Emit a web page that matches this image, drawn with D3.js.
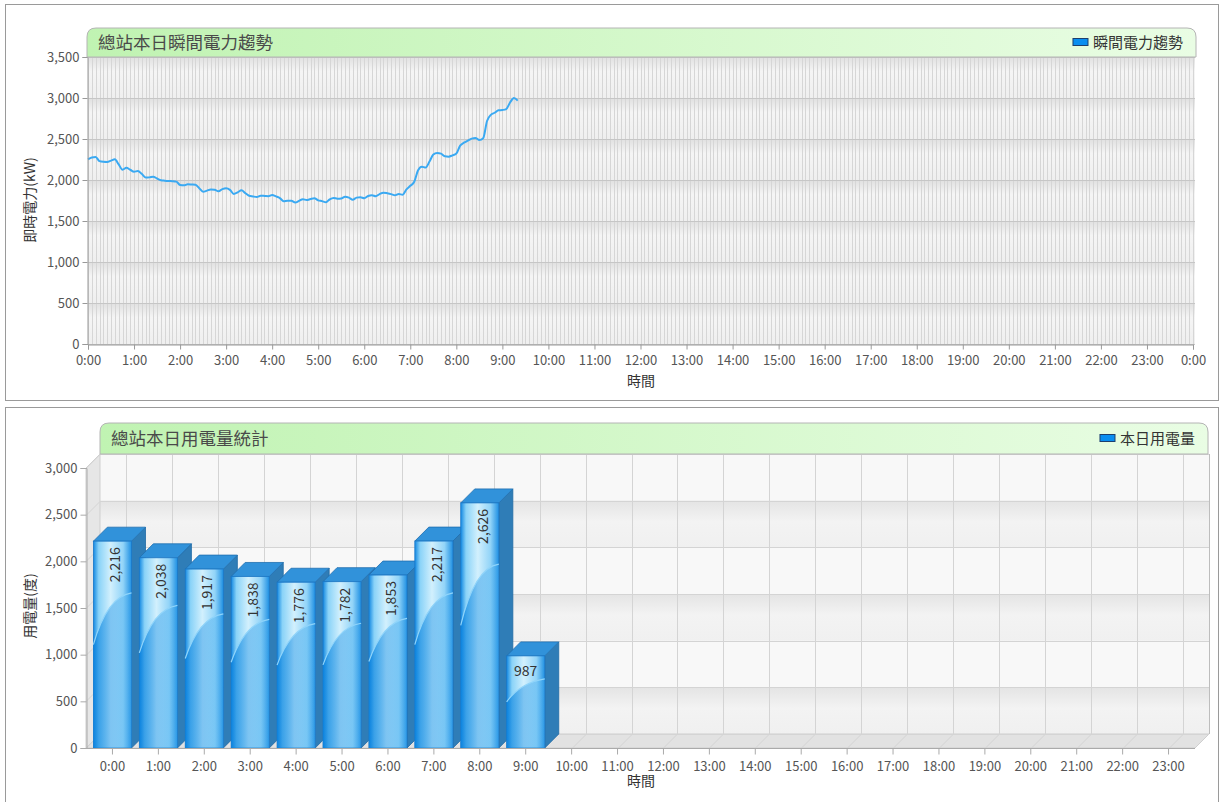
<!DOCTYPE html>
<html>
<head>
<meta charset="utf-8">
<script src="https://cdn.jsdelivr.net/npm/d3@7"></script>
<style>
  body { margin: 0; background: #fff; }
  text { font-family: "Noto Sans CJK TC", "Open Sans", sans-serif; }
</style>
</head>
<body>
<svg id="chart" width="1220" height="802"></svg>
<script>
// instant power, every 5 minutes from 0:00 to 9:20 (kW)
var powerValues = [
  2252, 2275, 2280, 2230, 2222, 2220, 2236, 2252, 2190, 2125,
  2148, 2125, 2100, 2110, 2075, 2030, 2032, 2040, 2018, 1998,
  1992, 1988, 1986, 1980, 1940, 1935, 1947, 1945, 1942, 1900,
  1856, 1870, 1885, 1882, 1862, 1888, 1900, 1880, 1830, 1850,
  1874, 1840, 1808, 1800, 1793, 1808, 1806, 1803, 1817, 1800,
  1780, 1742, 1748, 1748, 1725, 1745, 1766, 1756, 1768, 1777,
  1752, 1742, 1728, 1765, 1782, 1772, 1775, 1795, 1785, 1760,
  1785, 1790, 1778, 1805, 1815, 1802, 1828, 1845, 1838, 1828,
  1813, 1830, 1820, 1885, 1930, 1975, 2115, 2163, 2152, 2225,
  2310, 2330, 2322, 2290, 2285, 2300, 2322, 2420, 2455, 2480,
  2505, 2512, 2488, 2510, 2720, 2795, 2820, 2850, 2854, 2865,
  2945, 3000, 2968
];
var stepMinutes = 5;

// hourly usage (度)
var hours = ["0:00","1:00","2:00","3:00","4:00","5:00","6:00","7:00","8:00","9:00","10:00","11:00",
             "12:00","13:00","14:00","15:00","16:00","17:00","18:00","19:00","20:00","21:00","22:00","23:00"];
var usageValues = [2216, 2038, 1917, 1838, 1776, 1782, 1853, 2217, 2626, 987];

var topTicks = [0, 500, 1000, 1500, 2000, 2500, 3000, 3500];
var bottomTicks = [0, 500, 1000, 1500, 2000, 2500, 3000];

var svg = d3.select('#chart');
var defs = svg.append('defs');
var fmt = d3.format(',');

// panel frames
svg.append('rect').attr('x', 5.5).attr('y', 4.5).attr('width', 1213).attr('height', 396)
  .attr('fill', '#fff').attr('stroke', '#9a9a9a');
svg.append('rect').attr('x', 5.5).attr('y', 407.5).attr('width', 1213).attr('height', 400)
  .attr('fill', '#fff').attr('stroke', '#9a9a9a');

// gradients
var hg = defs.append('linearGradient').attr('id', 'hdr').attr('x1', 0).attr('y1', 0).attr('x2', 1).attr('y2', 0);
hg.append('stop').attr('offset', '0%').attr('stop-color', '#c0f3b2');
hg.append('stop').attr('offset', '100%').attr('stop-color', '#e9fde4');

var bg = defs.append('linearGradient').attr('id', 'band').attr('x1', 0).attr('y1', 0).attr('x2', 0).attr('y2', 1);
bg.append('stop').attr('offset', '0%').attr('stop-color', '#e0e0e0');
bg.append('stop').attr('offset', '35%').attr('stop-color', '#f5f5f5');
bg.append('stop').attr('offset', '100%').attr('stop-color', '#efefef');

var bg2 = defs.append('linearGradient').attr('id', 'band2').attr('x1', 0).attr('y1', 0).attr('x2', 0).attr('y2', 1);
bg2.append('stop').attr('offset', '0%').attr('stop-color', '#e4e4e4');
bg2.append('stop').attr('offset', '45%').attr('stop-color', '#f3f3f3');
bg2.append('stop').attr('offset', '100%').attr('stop-color', '#f0f0f0');

var fg = defs.append('linearGradient').attr('id', 'face').attr('x1', 0).attr('y1', 0).attr('x2', 1).attr('y2', 0);
fg.append('stop').attr('offset', '0%').attr('stop-color', '#1489e2');
fg.append('stop').attr('offset', '14%').attr('stop-color', '#8ad3f8');
fg.append('stop').attr('offset', '45%').attr('stop-color', '#d2f0fd');
fg.append('stop').attr('offset', '78%').attr('stop-color', '#92d4f8');
fg.append('stop').attr('offset', '100%').attr('stop-color', '#1f90e3');

var gl = defs.append('linearGradient').attr('id', 'glare').attr('x1', 0).attr('y1', 0).attr('x2', 1).attr('y2', 0);
gl.append('stop').attr('offset', '0%').attr('stop-color', '#0a82de').attr('stop-opacity', 0.75);
gl.append('stop').attr('offset', '100%').attr('stop-color', '#4fb4f2').attr('stop-opacity', 0.2);

function header(x0, y0, x1, y1, title, legend) {
  var r = 9;
  svg.append('path')
    .attr('d', 'M' + x0 + ',' + y1 + 'V' + (y0 + r) + 'Q' + x0 + ',' + y0 + ' ' + (x0 + r) + ',' + y0 +
               'H' + (x1 - r) + 'Q' + x1 + ',' + y0 + ' ' + x1 + ',' + (y0 + r) + 'V' + y1 + 'Z')
    .attr('fill', 'url(#hdr)').attr('stroke', '#b4b4b4');
  svg.append('text').attr('x', x0 + 11).attr('y', (y0 + y1) / 2 + 6)
    .attr('font-size', 17.5).attr('fill', '#4a4a4a').text(title);
  var lt = svg.append('text').attr('x', x1 - 13).attr('y', (y0 + y1) / 2 + 5)
    .attr('font-size', 15).attr('fill', '#333').attr('text-anchor', 'end').text(legend);
  var w = lt.node().getComputedTextLength();
  svg.append('rect').attr('x', x1 - 13 - w - 20).attr('y', (y0 + y1) / 2 - 4)
    .attr('width', 15).attr('height', 7).attr('fill', '#0a8ef0').attr('stroke', '#1d3f6e');
}

// ---------------- top chart ----------------
var x = d3.scaleLinear().domain([0, 24 * 60]).range([88, 1193]);
var y = d3.scaleLinear().domain([0, 3500]).range([344, 57]);

var topG = svg.append('g');
topG.selectAll('rect.band').data(topTicks.slice(0, -1)).enter().append('rect')
  .attr('x', 88).attr('width', 1107)
  .attr('y', function (d) { return y(d + 500); })
  .attr('height', function (d) { return y(d) - y(d + 500); })
  .attr('fill', 'url(#band)');

topG.selectAll('line.v').data(d3.range(0, 24 * 60 / stepMinutes + 1)).enter().append('line')
  .attr('x1', function (d) { return Math.round(x(d * stepMinutes)) + 0.5; })
  .attr('x2', function (d) { return Math.round(x(d * stepMinutes)) + 0.5; })
  .attr('y1', 57).attr('y2', 344)
  .attr('stroke', '#d6d6d6');

topG.selectAll('line.h').data(topTicks).enter().append('line')
  .attr('x1', 88).attr('x2', 1195)
  .attr('y1', function (d) { return Math.round(y(d)) + 0.5; })
  .attr('y2', function (d) { return Math.round(y(d)) + 0.5; })
  .attr('stroke', '#c6c6c6');

var line = d3.line()
  .x(function (d, i) { return x(i * stepMinutes); })
  .y(function (d) { return y(d); })
  .curve(d3.curveMonotoneX);
topG.append('path').datum(powerValues).attr('d', line)
  .attr('fill', 'none').attr('stroke', '#3aa9f2').attr('stroke-width', 2);

var yAxisTop = topG.append('g').attr('transform', 'translate(87.5,0)')
  .call(d3.axisLeft(y).tickValues(topTicks).tickFormat(fmt).tickSize(5).tickPadding(3));
var xAxisTop = topG.append('g').attr('transform', 'translate(0,344.5)')
  .call(d3.axisBottom(x).tickValues(d3.range(0, 25).map(function (h) { return h * 60; }))
    .tickFormat(function (d) { return (d / 60) % 24 + ':00'; }).tickSize(5).tickPadding(6));
[yAxisTop, xAxisTop].forEach(function (a) {
  a.selectAll('path').attr('stroke', '#999');
  a.selectAll('line').attr('stroke', '#999');
  a.selectAll('text').attr('font-size', 13).attr('fill', '#555')
    .style('font-family', '"Noto Sans CJK TC", sans-serif');
});

topG.append('text').attr('transform', 'translate(35,200) rotate(-90)')
  .attr('text-anchor', 'middle').attr('font-size', 14).attr('fill', '#333').text('即時電力(kW)');
topG.append('text').attr('x', 641).attr('y', 386)
  .attr('text-anchor', 'middle').attr('font-size', 14).attr('fill', '#333').text('時間');

header(87, 28, 1196, 57, '總站本日瞬間電力趨勢', '瞬間電力趨勢');

// ---------------- bottom chart ----------------
var dep = 14;
var xb = d3.scaleBand().domain(hours).range([89.5, 1191.5]).paddingInner(0.17).paddingOuter(0.085);
var yb = d3.scaleLinear().domain([0, 3000]).range([748, 468]);

var bot = svg.append('g');
// back wall
bot.append('rect').attr('x', 86 + dep).attr('y', yb(3000) - dep).attr('width', 1109)
  .attr('height', yb(0) - yb(3000)).attr('fill', '#f8f8f8');
bot.selectAll('rect.band').data([0, 1000, 2000]).enter().append('rect')
  .attr('x', 86 + dep).attr('width', 1109)
  .attr('y', function (d) { return yb(d + 500) - dep; })
  .attr('height', function (d) { return yb(d) - yb(d + 500); })
  .attr('fill', 'url(#band2)');
// left wall
bot.append('path')
  .attr('d', 'M86,' + yb(0) + 'V' + yb(3000) + 'L' + (86 + dep) + ',' + (yb(3000) - dep) +
             'V' + (yb(0) - dep) + 'Z')
  .attr('fill', '#e6e6e6').attr('stroke', '#cfcfcf');
// floor
bot.append('path')
  .attr('d', 'M86,' + yb(0) + 'H1195L' + (1195 + dep) + ',' + (yb(0) - dep) + 'H' + (86 + dep) + 'Z')
  .attr('fill', '#e2e2e2').attr('stroke', '#cfcfcf');
// back wall right edge
bot.append('line').attr('x1', 1195 + dep + 0.5).attr('x2', 1195 + dep + 0.5)
  .attr('y1', yb(3000) - dep).attr('y2', yb(0) - dep).attr('stroke', '#bdbdbd');

// horizontal grid on walls
bot.selectAll('path.hg').data(bottomTicks).enter().append('path')
  .attr('d', function (d) {
    var yy = Math.round(yb(d)) + 0.5;
    return 'M86,' + yy + 'L' + (86 + dep) + ',' + (yy - dep) + 'H' + (1195 + dep);
  })
  .attr('fill', 'none').attr('stroke', '#d4d4d4');
// vertical grid on back wall + floor
bot.selectAll('path.vg').data(hours).enter().append('path')
  .attr('d', function (d) {
    var cx = Math.round(xb(d) + xb.bandwidth() / 2) + 0.5;
    return 'M' + cx + ',' + yb(0) + 'L' + (cx + dep) + ',' + (yb(0) - dep) + 'V' + (yb(3000) - dep);
  })
  .attr('fill', 'none').attr('stroke', '#d4d4d4');

// bars
var bars = bot.selectAll('g.bar').data(usageValues).enter().append('g');
bars.each(function (v, i) {
  var g = d3.select(this);
  var bx = xb(hours[i]), bw = xb.bandwidth(), by = yb(v), b0 = yb(0), h = b0 - by;
  g.append('path')
    .attr('d', 'M' + (bx + bw) + ',' + by + 'L' + (bx + bw + dep) + ',' + (by - dep) +
               'V' + (b0 - dep) + 'L' + (bx + bw) + ',' + b0 + 'Z')
    .attr('fill', '#2f7db7').attr('stroke', '#1f6aa5').attr('stroke-width', 0.8);
  g.append('path')
    .attr('d', 'M' + bx + ',' + by + 'L' + (bx + dep) + ',' + (by - dep) + 'H' + (bx + bw + dep) +
               'L' + (bx + bw) + ',' + by + 'Z')
    .attr('fill', '#3192da').attr('stroke', '#1f6fb0').attr('stroke-width', 0.8);
  g.append('rect').attr('x', bx).attr('y', by).attr('width', bw).attr('height', h)
    .attr('fill', 'url(#face)').attr('stroke', '#1a78c8').attr('stroke-width', 0.8);
  // glare arc
  var yl = b0 - h * 0.5, yr = b0 - h * 0.75;
  g.append('path')
    .attr('d', 'M' + bx + ',' + yl + 'Q' + (bx + bw * 0.35) + ',' + (yr + 4) + ' ' + (bx + bw) + ',' + yr +
               'V' + b0 + 'H' + bx + 'Z')
    .attr('fill', 'url(#glare)');
  g.append('path')
    .attr('d', 'M' + bx + ',' + yl + 'Q' + (bx + bw * 0.35) + ',' + (yr + 4) + ' ' + (bx + bw) + ',' + yr)
    .attr('fill', 'none').attr('stroke', '#8fd4fa').attr('stroke-width', 1.2);
  var cx = bx + bw / 2;
  var label = fmt(v);
  if (label.length > 3) {
    g.append('text').attr('transform', 'translate(' + (cx + 2) + ',' + (by + 6) + ') rotate(-90)')
      .attr('text-anchor', 'end').attr('dominant-baseline', 'central')
      .attr('font-size', 14).attr('fill', '#333').text(label);
  } else {
    g.append('text').attr('x', cx).attr('y', by + 20)
      .attr('text-anchor', 'middle').attr('font-size', 14).attr('fill', '#333').text(label);
  }
});

var yAxisBot = bot.append('g').attr('transform', 'translate(86.5,0)')
  .call(d3.axisLeft(yb).tickValues(bottomTicks).tickFormat(fmt).tickSize(6).tickPadding(3));
var xAxisBot = bot.append('g').attr('transform', 'translate(0,' + (yb(0) + 0.5) + ')')
  .call(d3.axisBottom(xb).tickSize(6).tickPadding(7));
[yAxisBot, xAxisBot].forEach(function (a) {
  a.selectAll('path').attr('stroke', '#aaa');
  a.selectAll('line').attr('stroke', '#aaa');
  a.selectAll('text').attr('font-size', 13).attr('fill', '#555')
    .style('font-family', '"Noto Sans CJK TC", sans-serif');
});
xAxisBot.select('path').attr('d', 'M86,0H1195');

bot.append('text').attr('transform', 'translate(35,606) rotate(-90)')
  .attr('text-anchor', 'middle').attr('font-size', 14).attr('fill', '#333').text('用電量(度)');
bot.append('text').attr('x', 641).attr('y', 786)
  .attr('text-anchor', 'middle').attr('font-size', 14).attr('fill', '#333').text('時間');

header(100, 423, 1208, 454, '總站本日用電量統計', '本日用電量');
</script>
</body>
</html>
